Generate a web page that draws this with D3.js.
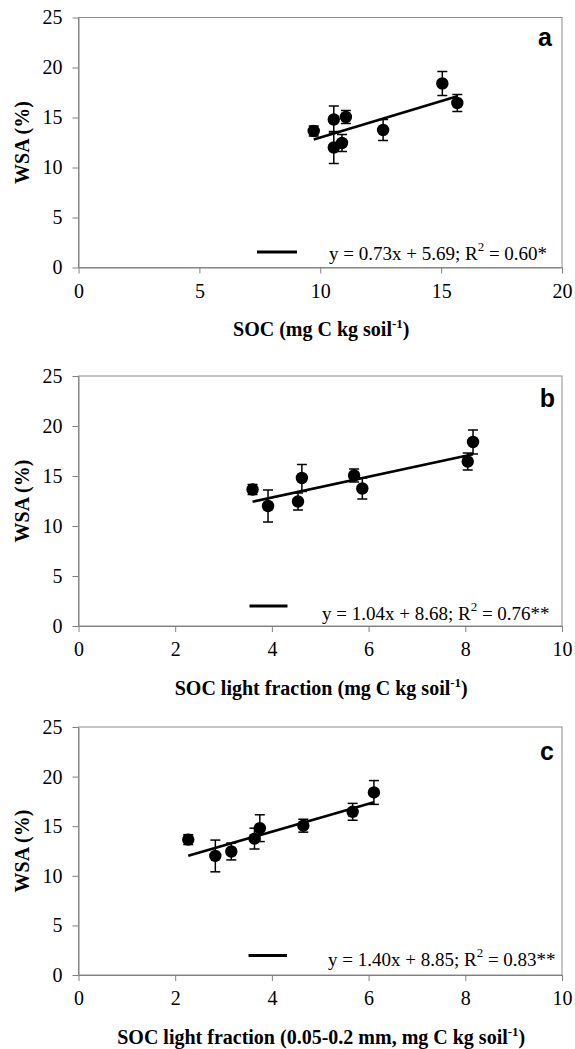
<!DOCTYPE html>
<html>
<head>
<meta charset="utf-8">
<script src="https://cdn.jsdelivr.net/npm/d3@7"></script>
<style>
  body { margin: 0; background: #fff; }
  .axis path, .axis line { stroke: #808080; }
</style>
</head>
<body>
<div id="chart"></div>
<script>
// WSA (%) of the 8 treatments, with error bars
var wsa = [13.65, 12.0, 12.45, 13.75, 14.8, 15.05, 16.45, 18.4];
var wsaErr = [0.5, 1.6, 0.85, 1.05, 1.35, 0.65, 0.85, 1.2];

// x values for each panel (same treatment order)
var socTotal = [9.73, 10.56, 10.9, 12.6, 10.56, 11.06, 15.67, 15.05];
var socLight = [3.6, 3.92, 4.54, 5.87, 4.62, 5.7, 8.05, 8.16];
var socLightFine = [2.27, 2.83, 3.16, 3.64, 3.75, 4.65, 5.67, 6.11];

var yTicks = [0, 5, 10, 15, 20, 25];
var xTicksA = [0, 5, 10, 15, 20];
var xTicksBC = [0, 2, 4, 6, 8, 10];

var slopes = [0.73, 1.04, 1.40];
var intercepts = [5.69, 8.68, 8.85];
var eqLabels = ["y = 0.73x + 5.69; R", "y = 1.04x + 8.68; R", "y = 1.40x + 8.85; R"];
var r2Labels = [" = 0.60*", " = 0.76**", " = 0.83**"];
var panelLetters = ["a", "b", "c"];
var xTitles = ["SOC (mg C kg soil", "SOC light fraction (mg C kg soil", "SOC light fraction (0.05-0.2 mm, mg C kg soil"];

var svgWidth = 575;
var svgHeight = 1049;
var left = 78.5, right = 562;

// layout of each panel
var panels = [
  {x: socTotal, xMax: 20, xTicks: xTicksA, top: 17.5, bottom: 267.5,
   letterX: 552, letterDy: 28.5, legLine: [257, 297], legLineDy: 15.5, legTextX: 329, legTextDy: 8},
  {x: socLight, xMax: 10, xTicks: xTicksBC, top: 376, bottom: 626,
   letterX: 555, letterDy: 30.5, legLine: [249.5, 287.5], legLineDy: 20, legTextX: 322, legTextDy: 6},
  {x: socLightFine, xMax: 10, xTicks: xTicksBC, top: 727, bottom: 975,
   letterX: 554, letterDy: 32.5, legLine: [248.5, 287], legLineDy: 19.5, legTextX: 328, legTextDy: 9}
];

var svg = d3.select("#chart").append("svg").attr("width", svgWidth).attr("height", svgHeight);

var serif = '"Liberation Serif", "Times New Roman", serif';

panels.forEach(function(p, i) {
  var g = svg.append("g");

  var xScale = d3.scaleLinear().domain([0, p.xMax]).range([left, right]);
  var yScale = d3.scaleLinear().domain([0, 25]).range([p.bottom, p.top]);

  // plot area frame
  g.append("rect")
    .attr("x", left).attr("y", p.top)
    .attr("width", right - left).attr("height", p.bottom - p.top)
    .attr("fill", "none").attr("stroke", "#8c8c8c").attr("stroke-width", 1);

  // axes
  g.append("g").attr("class", "axis")
    .attr("transform", `translate(0,${p.bottom})`)
    .call(d3.axisBottom(xScale).tickValues(p.xTicks).tickSize(6).tickSizeOuter(0).tickPadding(10))
    .attr("font-family", serif).attr("font-size", 20);

  g.append("g").attr("class", "axis")
    .attr("transform", `translate(${left},0)`)
    .call(d3.axisLeft(yScale).tickValues(yTicks).tickSize(6).tickSizeOuter(0).tickPadding(10))
    .attr("font-family", serif).attr("font-size", 20);

  g.selectAll(".tick text").attr("fill", "#000");

  // regression line
  var xs = d3.extent(p.x);
  g.append("line")
    .attr("x1", xScale(xs[0])).attr("y1", yScale(slopes[i] * xs[0] + intercepts[i]))
    .attr("x2", xScale(xs[1])).attr("y2", yScale(slopes[i] * xs[1] + intercepts[i]))
    .attr("stroke", "#000").attr("stroke-width", 2.6);

  var pts = p.x.map(function(v, k) { return {x: v, y: wsa[k], e: wsaErr[k]}; });

  // error bars
  var eb = g.selectAll(".eb").data(pts).enter().append("g").attr("class", "eb")
    .attr("stroke", "#000").attr("stroke-width", 1.5);
  eb.append("line")
    .attr("x1", d => xScale(d.x)).attr("x2", d => xScale(d.x))
    .attr("y1", d => yScale(d.y - d.e)).attr("y2", d => yScale(d.y + d.e));
  eb.append("line")
    .attr("x1", d => xScale(d.x) - 5).attr("x2", d => xScale(d.x) + 5)
    .attr("y1", d => yScale(d.y + d.e)).attr("y2", d => yScale(d.y + d.e));
  eb.append("line")
    .attr("x1", d => xScale(d.x) - 5).attr("x2", d => xScale(d.x) + 5)
    .attr("y1", d => yScale(d.y - d.e)).attr("y2", d => yScale(d.y - d.e));

  // points
  g.selectAll("circle").data(pts).enter().append("circle")
    .attr("cx", d => xScale(d.x))
    .attr("cy", d => yScale(d.y))
    .attr("r", 6.2)
    .attr("fill", "#000");

  // legend
  g.append("line")
    .attr("x1", p.legLine[0]).attr("x2", p.legLine[1])
    .attr("y1", p.bottom - p.legLineDy).attr("y2", p.bottom - p.legLineDy)
    .attr("stroke", "#000").attr("stroke-width", 2.8);
  var eq = g.append("text")
    .attr("x", p.legTextX).attr("y", p.bottom - p.legTextDy)
    .attr("font-family", serif).attr("font-size", 19).attr("fill", "#000");
  eq.append("tspan").text(eqLabels[i]);
  eq.append("tspan").attr("dy", -9).attr("font-size", 13).text("2");
  eq.append("tspan").attr("dy", 9).text(r2Labels[i]);

  // panel letter
  g.append("text")
    .attr("x", p.letterX).attr("y", p.top + p.letterDy)
    .attr("text-anchor", "end")
    .attr("font-family", '"Liberation Sans", Arial, sans-serif')
    .attr("font-weight", "bold").attr("font-size", 25)
    .text(panelLetters[i]);

  // y axis title
  var yMid = (p.top + p.bottom) / 2;
  g.append("text")
    .attr("transform", `translate(29,${yMid}) rotate(-90)`)
    .attr("text-anchor", "middle")
    .attr("font-family", serif).attr("font-weight", "bold").attr("font-size", 20)
    .text("WSA (%)");

  // x axis title
  var xt = g.append("text")
    .attr("x", (left + right) / 2 + 1).attr("y", p.bottom + 68.5)
    .attr("text-anchor", "middle")
    .attr("font-family", serif).attr("font-weight", "bold").attr("font-size", 20);
  xt.append("tspan").text(xTitles[i]);
  xt.append("tspan").attr("dy", -8).attr("font-size", 13).text("-1");
  xt.append("tspan").attr("dy", 8).text(")");
});
</script>
</body>
</html>
